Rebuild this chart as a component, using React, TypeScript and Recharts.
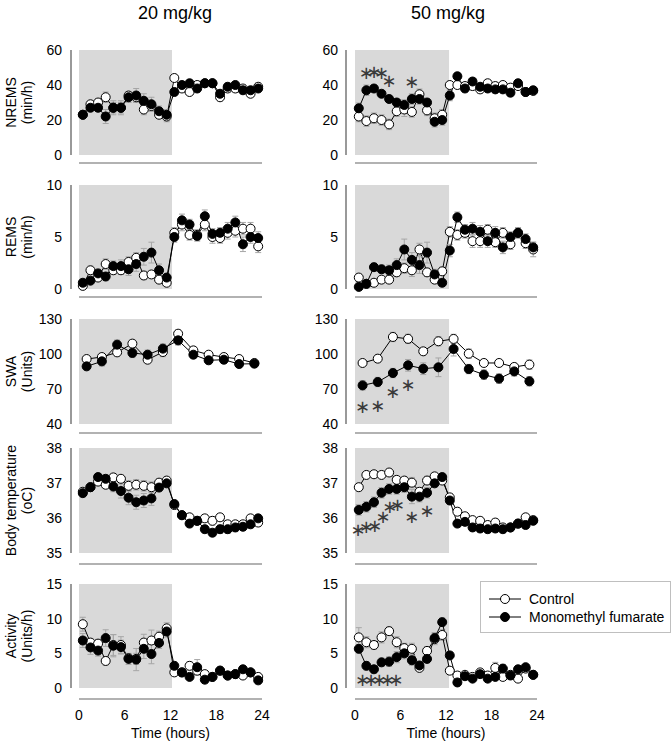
import React from "react";
import { ComposedChart, Line, XAxis, YAxis, ReferenceArea, ErrorBar, Scatter, Legend, Label } from "recharts";

const FONT = '"Liberation Sans", Arial, sans-serif';

// time bins (hours after lights on)
const HOURS = [0.5, 1.5, 2.5, 3.5, 4.5, 5.5, 6.5, 7.5, 8.5, 9.5, 10.5, 11.5, 12.5, 13.5, 14.5, 15.5, 16.5, 17.5, 18.5, 19.5, 20.5, 21.5, 22.5, 23.5];
const HOURS_2H = [1, 3, 5, 7, 9, 11, 13, 15, 17, 19, 21, 23];
const X_TICKS = [0, 6, 12, 18, 24];
const LIGHT_END_20 = 12.2;
const LIGHT_END_50 = 12.4;

const SERIES = [
  { key: "ctl", name: "Control", fill: "#fff" },
  { key: "mmf", name: "Monomethyl fumarate", fill: "#000" },
];

// NREMS (min/h)
const nremsCtl20 = [23, 29, 30, 33, 27, 27, 34, 33, 26, 28, 23, 22, 44, 38, 36, 40, 41, 41, 33, 38, 38, 38, 35, 39];
const nremsMmf20 = [23, 27, 27, 22, 27, 27, 33, 34, 31, 29, 25, 23, 36, 40, 41, 38, 41, 41, 35, 39, 40, 37, 37, 38];
const nremsCtlErr20 = [1.5, 2, 2, 3, 3, 3, 2, 3, 3, 3, 2, 3, 2, 2, 2, 2, 1.5, 2, 2, 2, 2, 2, 2, 2];
const nremsMmfErr20 = [1.5, 2, 2, 4, 4, 4, 3, 4, 4, 4, 3, 3, 2, 2, 2, 2, 1.5, 1.5, 2, 2, 1.5, 2, 2, 1.5];
const nremsCtl50 = [22, 19.4, 21, 20, 17.5, 25, 26, 24.6, 34.7, 25.5, 21, 23, 40, 40, 39.4, 39.4, 37.5, 41, 39.4, 40, 38.5, 39.4, 36, 36.6];
const nremsMmf50 = [26.7, 37, 38, 35, 32, 30, 28.6, 32, 32, 30, 19, 20, 34, 45, 38, 42, 39, 38, 37.5, 37.5, 35.6, 41, 36, 37];
const nremsCtlErr50 = [3, 3, 3, 3, 3, 3, 4, 3, 3, 3, 3, 3, 2, 2, 2, 2, 2, 2, 2, 2, 2, 2, 2, 2];
const nremsMmfErr50 = [3, 3, 2, 2, 2, 2, 3, 3, 3, 2, 3, 3, 3, 2, 2, 2, 2, 2, 2, 2, 2, 2, 2, 2];
const nremsStars50 = [
  { t: 1.5, y: 47 }, { t: 2.5, y: 47.5 }, { t: 3.5, y: 47 }, { t: 4.5, y: 42.5 }, { t: 7.5, y: 42 },
];

// REMS (min/h)
const remsCtl20 = [0.3, 1.8, 1.1, 2.4, 1.8, 1.8, 2.6, 3.0, 1.3, 1.4, 0.9, 0.6, 5.4, 6.2, 5.2, 5.2, 6.2, 5.0, 4.9, 5.4, 5.6, 5.8, 5.8, 4.1];
const remsMmf20 = [0.6, 0.8, 1.5, 1.2, 2.2, 2.2, 1.9, 2.4, 3.1, 3.5, 1.8, 1.1, 5.0, 6.6, 6.2, 5.1, 7.0, 5.3, 5.4, 5.8, 6.4, 4.3, 5.0, 4.9];
const remsCtlErr20 = [0.2, 0.4, 0.3, 0.5, 0.4, 0.4, 0.5, 0.5, 0.4, 0.3, 0.3, 0.2, 0.5, 0.6, 0.5, 0.5, 0.6, 0.6, 0.5, 0.6, 0.6, 0.6, 0.6, 0.6];
const remsMmfErr20 = [0.2, 0.3, 0.4, 0.4, 0.5, 0.6, 0.6, 0.7, 0.8, 1.0, 0.6, 0.3, 0.5, 0.6, 0.5, 0.5, 0.6, 0.5, 0.5, 0.6, 0.6, 0.7, 0.6, 0.6];
const remsCtl50 = [1.1, 0.5, 0.6, 0.9, 0.9, 1.6, 2.0, 1.8, 3.8, 1.6, 0.9, 1.7, 5.5, 5.2, 5.4, 4.6, 4.6, 5.7, 4.5, 5.4, 4.3, 5.4, 4.4, 3.8];
const remsMmf50 = [0.2, 0.5, 2.1, 1.9, 1.8, 2.3, 3.8, 2.8, 2.3, 3.5, 1.4, 0.6, 3.7, 6.9, 5.7, 5.8, 5.5, 4.6, 5.4, 4.0, 5.0, 5.4, 4.8, 4.0];
const remsCtlErr50 = [0.3, 0.3, 0.3, 0.3, 0.3, 0.4, 0.5, 0.6, 0.6, 0.4, 0.3, 0.4, 0.5, 0.5, 0.5, 0.6, 0.6, 0.5, 0.5, 0.5, 0.5, 0.5, 0.5, 0.7];
const remsMmfErr50 = [0.1, 0.2, 0.4, 0.4, 0.5, 0.6, 1.0, 0.7, 0.8, 1.0, 0.5, 0.2, 0.6, 0.5, 0.5, 0.6, 0.6, 0.6, 0.6, 0.6, 0.5, 0.5, 0.5, 0.5];

// SWA (Units), 2 h bins
const swaCtl20 = [95.7, 97.4, 101.4, 108.9, 95.1, 101.7, 117.4, 103.1, 99.4, 97.4, 95.7, 92.3];
const swaMmf20 = [89.4, 93.7, 108, 100.9, 99.4, 104.6, 111.7, 99.4, 94.6, 95.1, 91.4, 91.7];
const swaCtlErr20 = [3, 3, 3, 3, 3, 4, 3, 3, 2, 2, 2, 2];
const swaMmfErr20 = [3, 4, 4, 4, 4, 4, 4, 3, 3, 3, 2, 3];
const swaCtl50 = [92.3, 96, 114.6, 113, 102.3, 110.9, 112.9, 100.3, 92.3, 92.3, 88.9, 90.9];
const swaMmf50 = [73.1, 76, 83.7, 90.3, 87.4, 88.6, 104.3, 87.1, 82.3, 78.9, 85.1, 76.6];
const swaCtlErr50 = [3, 3, 4, 4, 3, 4, 4, 4, 3, 3, 3, 4];
const swaMmfErr50 = [4, 4, 4, 5, 5, 8, 6, 4, 4, 4, 4, 4];
const swaStars50 = [{ t: 1, y: 55 }, { t: 3, y: 55.5 }, { t: 5, y: 67.5 }, { t: 7, y: 74 }];

// Body temperature (oC)
const tempCtl20 = [36.75, 36.88, 37.04, 36.95, 37.16, 37.12, 36.92, 36.95, 36.92, 36.88, 37.01, 37.07, 36.37, 36.08, 36.02, 35.92, 35.99, 35.92, 36.02, 35.82, 35.82, 35.82, 35.99, 35.87];
const tempMmf20 = [36.71, 36.88, 37.17, 37.12, 36.9, 36.77, 36.58, 36.45, 36.5, 36.56, 36.87, 36.99, 36.4, 36.08, 35.84, 35.92, 35.68, 35.58, 35.68, 35.68, 35.73, 35.75, 35.82, 35.99];
const tempCtlErr20 = [0.1, 0.1, 0.1, 0.1, 0.1, 0.1, 0.15, 0.15, 0.15, 0.15, 0.1, 0.1, 0.1, 0.08, 0.1, 0.1, 0.1, 0.12, 0.1, 0.1, 0.1, 0.1, 0.1, 0.1];
const tempMmfErr20 = [0.1, 0.1, 0.1, 0.1, 0.15, 0.2, 0.2, 0.2, 0.2, 0.2, 0.1, 0.1, 0.08, 0.08, 0.1, 0.1, 0.1, 0.1, 0.12, 0.12, 0.12, 0.1, 0.1, 0.1];
const tempCtl50 = [36.88, 37.23, 37.25, 37.23, 37.3, 37.09, 37.07, 37.01, 36.75, 37.07, 37.19, 37.07, 36.59, 36.18, 36.05, 35.94, 35.92, 35.8, 35.87, 35.73, 35.73, 35.84, 36.02, 35.94];
const tempMmf50 = [36.23, 36.32, 36.45, 36.72, 36.83, 36.83, 36.88, 36.61, 36.61, 36.72, 36.99, 37.17, 36.5, 35.84, 35.89, 35.73, 35.7, 35.68, 35.7, 35.68, 35.73, 35.84, 35.8, 35.92];
const tempCtlErr50 = [0.1, 0.08, 0.08, 0.08, 0.08, 0.1, 0.1, 0.15, 0.12, 0.12, 0.1, 0.1, 0.1, 0.1, 0.1, 0.1, 0.1, 0.1, 0.1, 0.1, 0.1, 0.1, 0.1, 0.1];
const tempMmfErr50 = [0.15, 0.15, 0.15, 0.15, 0.15, 0.15, 0.15, 0.2, 0.15, 0.15, 0.1, 0.1, 0.1, 0.1, 0.1, 0.1, 0.1, 0.1, 0.1, 0.1, 0.1, 0.1, 0.1, 0.1];
const tempStars50 = [
  { t: 0.4, y: 35.68 }, { t: 1.5, y: 35.76 }, { t: 2.6, y: 35.78 }, { t: 3.7, y: 36.05 },
  { t: 4.6, y: 36.33 }, { t: 5.6, y: 36.38 }, { t: 7.5, y: 36.05 }, { t: 9.5, y: 36.22 },
];

// Activity (Units/h)
const actCtl20 = [9.2, 6.55, 6.4, 3.9, 6.2, 6.2, 4.3, 4.2, 6.55, 6.85, 7.4, 8.6, 2.25, 2.25, 3.2, 2.5, 2.0, 1.6, 2.5, 1.8, 2.0, 1.8, 2.25, 1.6];
const actMmf20 = [6.85, 5.85, 5.4, 7.2, 6.1, 5.9, 4.2, 4.1, 5.65, 4.9, 6.5, 8.15, 3.2, 2.25, 1.6, 3.0, 1.2, 1.6, 2.5, 1.8, 2.0, 2.7, 2.25, 1.1];
const actCtlErr20 = [1.0, 0.6, 0.6, 0.6, 1.5, 1.2, 0.6, 0.8, 1.2, 1.5, 0.8, 0.8, 0.4, 0.4, 0.6, 0.6, 0.4, 0.4, 0.4, 0.4, 0.4, 0.4, 0.4, 0.4];
const actMmfErr20 = [1.0, 1.0, 0.8, 1.2, 1.6, 1.0, 0.8, 1.6, 1.4, 1.4, 0.8, 0.8, 0.5, 0.5, 0.5, 1.1, 0.5, 0.4, 0.4, 0.4, 0.4, 0.4, 0.4, 0.4];
const actCtl50 = [7.3, 6.6, 6.2, 7.3, 8.2, 6.6, 5.75, 5.65, 2.9, 5.35, 7.05, 7.65, 2.5, 1.8, 1.9, 1.6, 2.25, 1.8, 2.9, 1.6, 1.9, 1.35, 2.8, 1.9];
const actMmf50 = [5.65, 3.2, 2.7, 3.7, 3.8, 4.45, 5.0, 4.0, 3.25, 4.2, 7.2, 9.5, 4.7, 0.8, 1.7, 1.35, 2.0, 1.35, 1.6, 2.8, 1.8, 2.7, 3.0, 1.9];
const actCtlErr50 = [1.4, 0.8, 0.6, 0.8, 0.6, 0.8, 0.7, 0.8, 0.5, 0.6, 0.8, 0.8, 0.5, 0.5, 0.4, 0.4, 0.4, 0.4, 0.8, 0.5, 0.4, 0.4, 0.5, 0.4];
const actMmfErr50 = [0.6, 0.6, 0.5, 0.6, 0.7, 0.8, 0.8, 0.7, 0.5, 0.6, 0.8, 0.6, 0.5, 0.3, 0.4, 0.4, 0.4, 0.4, 0.4, 0.6, 0.4, 0.4, 0.4, 0.4];
const actStars50 = [{ t: 1.0, y: 1.2 }, { t: 2.1, y: 1.2 }, { t: 3.2, y: 1.2 }, { t: 4.3, y: 1.2 }, { t: 5.4, y: 1.2 }];

// layout of the five rows (plot area top / height, gap of x axis line below)
const ROW_TOP = [50, 185, 319, 448, 584];
const ROW_H = [105, 104, 105, 105, 104];
const AXIS_GAP = [8, 8, 9, 11, 11];

type Star = { t: number; y: number };

const rows = (t: number[], ctl: number[], mmf: number[], ctlErr: number[], mmfErr: number[]) =>
  t.map((h, i) => ({ t: h, ctl: ctl[i], mmf: mmf[i], ctlErr: ctlErr[i], mmfErr: mmfErr[i] }));

const renderStar = (p: any) => (
  <text x={p.cx} y={p.cy} textAnchor="middle" dominantBaseline="central" fontSize={18} fill="#3a3a3a" fontFamily="DejaVu Sans">
    ∗
  </text>
);

function YTitle({ viewBox, lines }: { viewBox?: any; lines: string[] }) {
  if (!viewBox) return null;
  const cy = viewBox.y + viewBox.height / 2;
  return (
    <g>
      {lines.map((l, i) => {
        const x = viewBox.x + 11 + 16 * i;
        return (
          <text key={l} x={x} y={cy} transform={`rotate(-90 ${x} ${cy})`} textAnchor="middle" dominantBaseline="central" fontSize={14} fill="#000">
            {l}
          </text>
        );
      })}
    </g>
  );
}

function LegendBox() {
  return (
    <div style={{ border: "1px solid #bfbfbf", background: "#fff", width: 191, height: 52, boxSizing: "border-box", padding: "8px 0 0 8px", fontFamily: FONT, fontSize: 14, color: "#000" }}>
      {SERIES.map(s => (
        <div key={s.key} style={{ display: "flex", alignItems: "center", height: 18 }}>
          <svg width={32} height={12}>
            <line x1={0} y1={6} x2={32} y2={6} stroke="#000" />
            <circle cx={16} cy={6} r={4.5} fill={s.fill} stroke="#000" />
          </svg>
          <span style={{ marginLeft: 8 }}>{s.name}</span>
        </div>
      ))}
    </div>
  );
}

type PanelProps = {
  data: ReturnType<typeof rows>;
  stars?: Star[];
  yDomain: [number, number];
  yTicks: number[];
  yTitle?: string[];
  side: "left" | "right";
  row: number;
  lightEnd: number;
  legend?: boolean;
};

function Panel({ data, stars, yDomain, yTicks, yTitle, side, row, lightEnd, legend }: PanelProps) {
  const isLeft = side === "left";
  const bottomRow = row === 4;
  const top = 10;
  const xH = bottomRow ? 55 : 20;
  const width = isLeft ? 290 : 372;
  const height = top + ROW_H[row] + xH;
  const yShift = isLeft ? -8 : -9;
  return (
    <div style={{ position: "absolute", left: isLeft ? 0 : 300, top: ROW_TOP[row] - top }}>
      <ComposedChart width={width} height={height} data={data} margin={{ top, right: isLeft ? 28 : 135, bottom: 0, left: 0 }}>
        <ReferenceArea x1={0} x2={lightEnd} y1={yDomain[0]} y2={yDomain[1]} fill="#d9d9d9" fillOpacity={1} stroke="none" />
        <XAxis
          type="number"
          dataKey="t"
          domain={[0, 24]}
          ticks={X_TICKS}
          interval={0}
          height={xH}
          tick={bottomRow ? { fontSize: 14, fill: "#000" } : false}
          tickLine={false}
          tickSize={0}
          tickMargin={22}
          axisLine={{ stroke: "#666", strokeWidth: 1.2, transform: `translate(0, ${AXIS_GAP[row]})` }}
        >
          {bottomRow && <Label value="Time (hours)" position="insideBottom" offset={5} fontSize={14} fill="#000" />}
        </XAxis>
        <YAxis
          type="number"
          domain={yDomain}
          ticks={yTicks}
          interval={0}
          width={isLeft ? 79 : 55}
          tick={{ fontSize: 14, fill: "#000" }}
          tickLine={false}
          tickSize={0}
          tickMargin={17}
          axisLine={{ stroke: "#555", strokeWidth: 1.2, transform: `translate(${yShift}, 0)` }}
        >
          {yTitle && <Label content={(p: any) => <YTitle viewBox={p.viewBox} lines={yTitle} />} />}
        </YAxis>
        <Line type="linear" dataKey="ctl" name="Control" stroke="#000" strokeWidth={1} dot={{ r: 4.5, fill: "#fff", stroke: "#000", strokeWidth: 1 }} activeDot={false} isAnimationActive={false}>
          <ErrorBar dataKey="ctlErr" width={3} stroke="#a6a6a6" strokeWidth={1} direction="y" />
        </Line>
        <Line type="linear" dataKey="mmf" name="Monomethyl fumarate" stroke="#000" strokeWidth={1} dot={{ r: 4.5, fill: "#000", stroke: "#000", strokeWidth: 1 }} activeDot={false} isAnimationActive={false}>
          <ErrorBar dataKey="mmfErr" width={3} stroke="#a6a6a6" strokeWidth={1} direction="y" />
        </Line>
        {stars && <Scatter data={stars} dataKey="y" shape={renderStar} isAnimationActive={false} legendType="none" />}
        {legend && (
          <Legend
            layout="horizontal"
            verticalAlign="middle"
            align="center"
            content={() => <LegendBox />}
            wrapperStyle={{ left: 180, top: 581 - (ROW_TOP[row] - top), width: 191, height: 52 }}
          />
        )}
      </ComposedChart>
    </div>
  );
}

export default function App() {
  return (
    <div style={{ position: "absolute", left: 0, top: 0, width: 672, height: 743, background: "#fff", fontFamily: FONT, overflow: "hidden" }}>
      <div style={{ position: "absolute", left: 115, top: 2, width: 120, textAlign: "center", fontSize: 18, lineHeight: "22px" }}>20 mg/kg</div>
      <div style={{ position: "absolute", left: 388, top: 2, width: 120, textAlign: "center", fontSize: 18, lineHeight: "22px" }}>50 mg/kg</div>

      <Panel row={0} side="left" lightEnd={LIGHT_END_20} yDomain={[0, 60]} yTicks={[0, 20, 40, 60]} yTitle={["NREMS", "(min/h)"]}
        data={rows(HOURS, nremsCtl20, nremsMmf20, nremsCtlErr20, nremsMmfErr20)} />
      <Panel row={0} side="right" lightEnd={LIGHT_END_50} yDomain={[0, 60]} yTicks={[0, 20, 40, 60]} stars={nremsStars50}
        data={rows(HOURS, nremsCtl50, nremsMmf50, nremsCtlErr50, nremsMmfErr50)} />

      <Panel row={1} side="left" lightEnd={LIGHT_END_20} yDomain={[0, 10]} yTicks={[0, 5, 10]} yTitle={["REMS", "(min/h)"]}
        data={rows(HOURS, remsCtl20, remsMmf20, remsCtlErr20, remsMmfErr20)} />
      <Panel row={1} side="right" lightEnd={LIGHT_END_50} yDomain={[0, 10]} yTicks={[0, 5, 10]}
        data={rows(HOURS, remsCtl50, remsMmf50, remsCtlErr50, remsMmfErr50)} />

      <Panel row={2} side="left" lightEnd={LIGHT_END_20} yDomain={[40, 130]} yTicks={[40, 70, 100, 130]} yTitle={["SWA", "(Units)"]}
        data={rows(HOURS_2H, swaCtl20, swaMmf20, swaCtlErr20, swaMmfErr20)} />
      <Panel row={2} side="right" lightEnd={LIGHT_END_50} yDomain={[40, 130]} yTicks={[40, 70, 100, 130]} stars={swaStars50}
        data={rows(HOURS_2H, swaCtl50, swaMmf50, swaCtlErr50, swaMmfErr50)} />

      <Panel row={3} side="left" lightEnd={LIGHT_END_20} yDomain={[35, 38]} yTicks={[35, 36, 37, 38]} yTitle={["Body temperature", "(oC)"]}
        data={rows(HOURS, tempCtl20, tempMmf20, tempCtlErr20, tempMmfErr20)} />
      <Panel row={3} side="right" lightEnd={LIGHT_END_50} yDomain={[35, 38]} yTicks={[35, 36, 37, 38]} stars={tempStars50}
        data={rows(HOURS, tempCtl50, tempMmf50, tempCtlErr50, tempMmfErr50)} />

      <Panel row={4} side="left" lightEnd={LIGHT_END_20} yDomain={[0, 15]} yTicks={[0, 5, 10, 15]} yTitle={["Activity", "(Units/h)"]}
        data={rows(HOURS, actCtl20, actMmf20, actCtlErr20, actMmfErr20)} />
      <Panel row={4} side="right" lightEnd={LIGHT_END_50} yDomain={[0, 15]} yTicks={[0, 5, 10, 15]} stars={actStars50} legend
        data={rows(HOURS, actCtl50, actMmf50, actCtlErr50, actMmfErr50)} />
    </div>
  );
}
